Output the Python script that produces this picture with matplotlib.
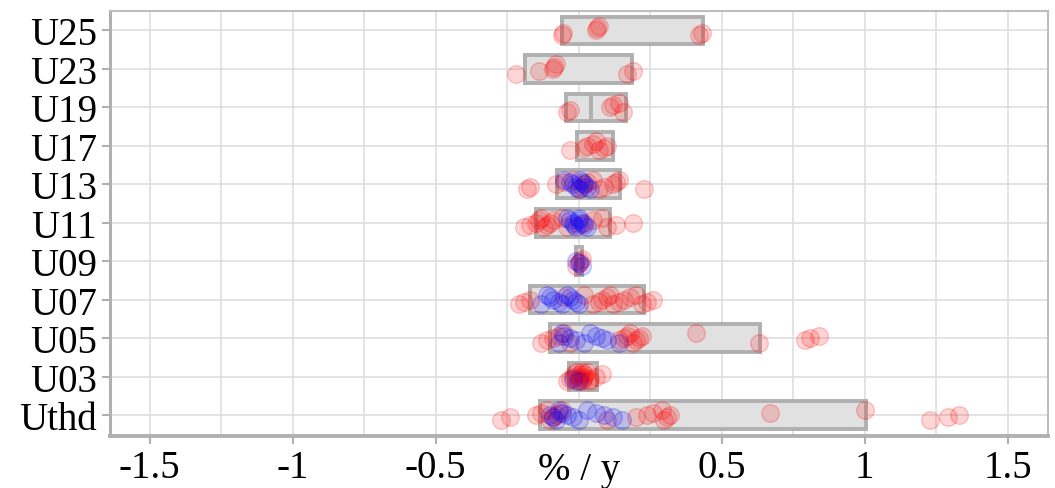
import matplotlib.pyplot as plt
import numpy as np
from matplotlib.transforms import blended_transform_factory

# categories, bottom to top
cats = ['Uthd', 'U03', 'U05', 'U07', 'U09', 'U11', 'U13', 'U17', 'U19', 'U23', 'U25']

# box extents (lower edge, median, upper edge) in % / y
box_lo = [-0.135, -0.035, -0.10, -0.17, -0.01, -0.15, -0.075, -0.005, -0.044, -0.187, -0.058]
box_med = [-0.135, -0.035, -0.10, -0.17, -0.01, -0.15, -0.075, -0.005, 0.044, -0.187, -0.058]
box_hi = [1.005, 0.065, 0.635, 0.23, 0.01, 0.11, 0.145, 0.12, 0.166, 0.187, 0.435]

red_pts = {
    'Uthd': [-0.27, -0.24, -0.15, -0.13, -0.11, -0.10, -0.09, -0.08, -0.07, -0.06, 0.10,
             0.20, 0.24, 0.26, 0.29, 0.30, 0.31, 0.32, 0.67, 1.00, 1.23, 1.29, 1.33],
    'U03': [-0.04, -0.03, -0.02, -0.015, -0.01, -0.005, 0.0, 0.0, 0.005, 0.01, 0.01,
            0.015, 0.02, 0.02, 0.03, 0.035, 0.04, 0.06, 0.08],
    'U05': [-0.13, -0.11, -0.09, -0.07, -0.05, -0.03, 0.14, 0.16, 0.17, 0.18, 0.19,
            0.20, 0.21, 0.22, 0.41, 0.63, 0.79, 0.81, 0.84],
    'U07': [-0.21, -0.19, -0.17, -0.05, 0.02, 0.05, 0.07, 0.08, 0.10, 0.11, 0.12,
            0.14, 0.16, 0.18, 0.20, 0.22, 0.24, 0.26],
    'U09': [-0.01, 0.0, 0.005, 0.01],
    'U11': [-0.19, -0.17, -0.15, -0.14, -0.13, -0.12, -0.11, -0.10, -0.09, -0.06,
            -0.04, 0.0, 0.02, 0.05, 0.08, 0.10, 0.13, 0.19],
    'U13': [-0.18, -0.17, -0.08, -0.05, -0.02, 0.0, 0.01, 0.02, 0.03, 0.05, 0.07,
            0.09, 0.12, 0.13, 0.14, 0.23],
    'U17': [-0.03, 0.02, 0.03, 0.05, 0.06, 0.07, 0.09, 0.10],
    'U19': [-0.04, -0.03, 0.11, 0.12, 0.14, 0.155],
    'U23': [-0.22, -0.14, -0.09, -0.085, -0.08, 0.17, 0.19],
    'U25': [-0.06, -0.055, 0.06, 0.065, 0.07, 0.42, 0.43],
}
blue_pts = {
    'Uthd': [-0.10, -0.09, -0.08, -0.07, -0.06, -0.04, -0.02, 0.0, 0.03, 0.06, 0.09,
             0.12, 0.15],
    'U03': [-0.02, 0.0],
    'U05': [-0.07, -0.06, -0.05, -0.03, -0.01, 0.02, 0.04, 0.06, 0.08, 0.10, 0.14],
    'U07': [-0.13, -0.11, -0.10, -0.09, -0.07, -0.06, -0.04, -0.03, -0.02, -0.01, 0.0],
    'U09': [-0.01, 0.0, 0.01],
    'U11': [-0.04, -0.03, -0.02, -0.015, -0.01, 0.0, 0.0, 0.01, 0.02, 0.03],
    'U13': [-0.05, -0.03, -0.02, -0.01, 0.0, 0.005, 0.01, 0.02, 0.03, 0.04],
    'U17': [], 'U19': [], 'U23': [], 'U25': [],
}

xticks = [-1.5, -1, -0.5, 0.5, 1, 1.5]
xticklabels = ['-1.5', '-1', '-0.5', '0.5', '1', '1.5']

plt.rcParams['font.family'] = ['Liberation Serif', 'DejaVu Serif']

fig = plt.figure(figsize=(10.55, 4.89), dpi=100)
ax = fig.add_axes([0.104, 0.106, 0.889, 0.869])

pos = np.arange(len(cats))
grey = '#b0b0b0'

# boxes
ax.barh(pos, np.array(box_hi) - np.array(box_lo), left=box_lo, height=0.72,
        color='#e1e1e1', edgecolor=grey, linewidth=2.8, zorder=2)
for p, m in zip(pos, box_med):
    ax.plot([m, m], [p - 0.36, p + 0.36], color=grey, lw=2.8, zorder=2)

# points with a small fixed vertical jitter
def jit(n):
    return (np.arange(n) % 5 - 2) * 0.06

for p, c in zip(pos, cats):
    r = red_pts[c]
    ax.scatter(r, p + jit(len(r)), s=160, facecolor=(1, 0, 0, 0.16),
               edgecolor=(1, 0, 0, 0.22), linewidth=1, zorder=3)
for p, c in zip(pos, cats):
    b = blue_pts[c]
    if b:
        ax.scatter(b, p + jit(len(b))[::-1], s=160, facecolor=(0, 0, 1, 0.16),
                   edgecolor=(0, 0, 1, 0.22), linewidth=1, zorder=4)

ax.set_xlim(-1.64, 1.64)
ax.set_ylim(-0.55, 10.5)
ax.set_yticks(pos)
ax.set_yticklabels(cats, fontsize=28)
ax.set_xticks(xticks)
ax.set_xticklabels(xticklabels, fontsize=28)
ax.set_xticks(np.arange(-1.5, 1.51, 0.25), minor=True)
ax.tick_params(which='minor', length=0)
ax.tick_params(colors=grey, labelcolor='black', length=6, width=1.5, pad=3)

ax.grid(True, which='both', color='#dedede', lw=1.2, zorder=0)
ax.set_axisbelow(True)
for s in ax.spines.values():
    s.set_color('#bdbdbd')
    s.set_linewidth(1.5)
ax.spines['bottom'].set_linewidth(2.8)
ax.spines['left'].set_linewidth(2.2)
ax.spines['left'].set_color('#b0b0b0')
ax.spines['bottom'].set_color('#b0b0b0')

tr = blended_transform_factory(ax.transData, ax.transAxes)
ax.text(0, -0.035, '% / y', transform=tr, ha='center', va='top', fontsize=28)

fig.savefig('out.png', dpi=100)
